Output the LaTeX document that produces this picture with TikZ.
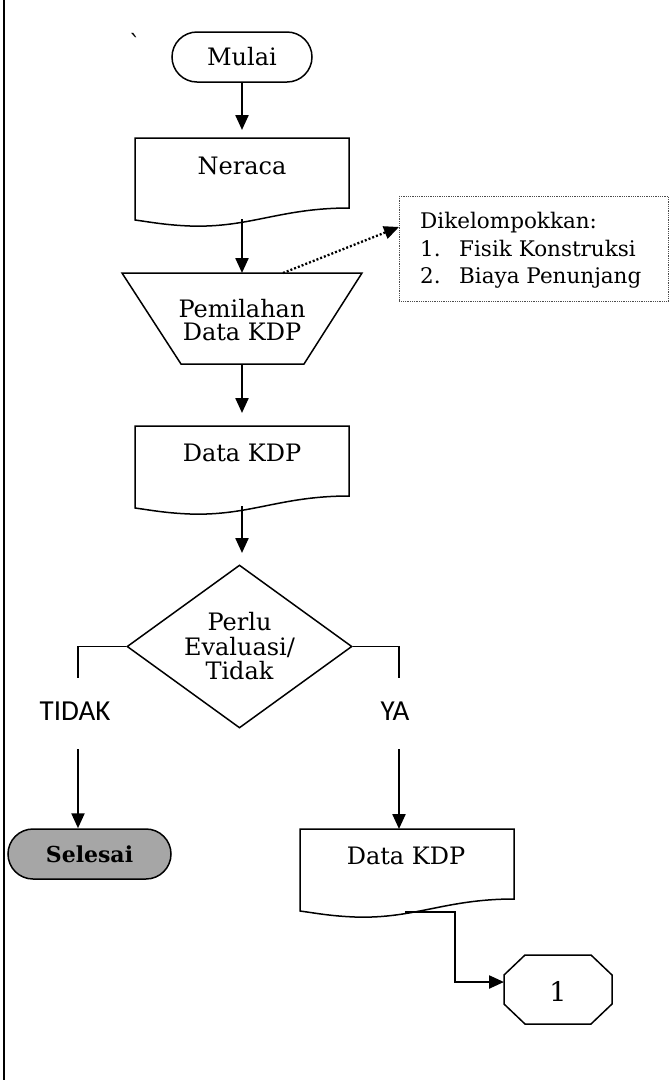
\documentclass[tikz,border=0pt]{standalone}
\usepackage{fontspec}
\setmainfont{DejaVu Serif}
\newfontfamily\sansf{Carlito}
\usetikzlibrary{shapes.geometric,arrows.meta}
\definecolor{selgray}{RGB}{166,166,166}
\begin{document}
\begin{tikzpicture}[x=1pt,y=-1pt,
  shp/.style={draw, line width=1.5pt, line join=miter},
  arr/.style={line width=2.3pt, -{Triangle[width=13pt,length=15pt]}},
  txt/.style={font=\fontsize{24}{23}\selectfont, align=center, inner sep=0pt},
  lbl/.style={font=\sansf\fontsize{29}{29}\selectfont, inner sep=0pt},
  docshape/.pic={\draw[shp] (0,0) -- (214,0) -- (214,70) .. controls (145,70) and (115,90) .. (55,88) .. controls (30,87) and (15,84) .. (0,82) -- cycle;}
]
\useasboundingbox (0,0) rectangle (669,1080);
\draw[line width=2.5pt] (4,0) -- (4,1080);
\node[txt] (tick) at (135,43) {ˋ};

% Mulai
\node[shp, txt, rounded corners=25pt, minimum width=140pt, minimum height=50pt] (mulai) at (242,57) {Mulai};

% Neraca
\pic at (135,138) {docshape};
\node[txt] (neraca) at (242,166) {Neraca};
\coordinate (neracaT) at (242,130);
\coordinate (neracaB) at (242,219);

% Pemilahan
\draw[shp] (122,273) -- (362,273) -- (304,364) -- (181,364) -- cycle;
\node[txt] (pemilahan) at (242,320) {Pemilahan\\Data KDP};
\coordinate (trapT) at (242,273);
\coordinate (trapB) at (242,364);
\coordinate (trapD) at (283,273);

% info box
\node[draw=black!70, densely dotted, line width=0.8pt, minimum width=269pt, minimum height=105pt, anchor=north west, inner sep=0pt] (info) at (399,196) {};
\node[anchor=north west, align=left, inner sep=0pt, font=\fontsize{21.5}{27.5}\selectfont] (infotxt) at (420,212) {Dikelompokkan:\\\makebox[39pt][l]{1.}Fisik Konstruksi\\\makebox[39pt][l]{2.}Biaya Penunjang};
\coordinate (infoIn) at (399,227);

% Data KDP 1
\pic at (135,426) {docshape};
\node[txt] (data1) at (242,453) {Data KDP};
\coordinate (data1T) at (242,413);
\coordinate (data1B) at (242,506);
\coordinate (decT) at (242,553);

% Decision
\node[shp, diamond, aspect=1.38, minimum width=225pt, minimum height=163pt, inner sep=0pt, font=\fontsize{24}{24.5}\selectfont, align=center] (dec) at (239.5,646.5) {Perlu\\Evaluasi/\\Tidak};

\coordinate (lt) at (78,678);
\coordinate (lb) at (78,749);
\coordinate (rt) at (399,678);
\coordinate (rb) at (399,749);
\node[lbl] (tidak) at (75,711) {TIDAK};
\node[lbl] (ya) at (395,711) {YA};

% Selesai
\node[shp, rounded corners=25pt, minimum width=163pt, minimum height=50pt, fill=selgray, inner sep=0pt, font=\bfseries\fontsize{22}{22}\selectfont] (selesai) at (89.5,854) {Selesai};

% Data KDP 2
\pic at (300,829) {docshape};
\node[txt] (data2) at (406,856) {Data KDP};
\coordinate (data2T) at (399,829);
\coordinate (data2B) at (405,912);
\coordinate (bend) at (455,982);

% connector 1
\draw[shp] (504,975) -- (525,955) -- (591,955) -- (612,975) -- (612,1004) -- (591,1024) -- (525,1024) -- (504,1004) -- cycle;
\node[font=\fontsize{27}{27}\selectfont, inner sep=0pt] (one) at (558,991) {1};
\coordinate (octIn) at (504,982);

% connectors
\draw[arr] (mulai.south) -- (neracaT);
\draw[arr] (neracaB) -- (trapT);
\draw[line width=2.3pt, dash pattern=on 2pt off 2pt, -{Triangle[width=13pt,length=15pt]}] (trapD) -- (infoIn);
\draw[arr] (trapB) -- (data1T);
\draw[arr] (data1B) -- (decT);
\draw[shp] (dec.west) -| (lt);
\draw[shp] (dec.east) -| (rt);
\draw[arr] (lb) -- (lb |- selesai.north);
\draw[arr] (rb) -- (data2T);
\draw[arr] (data2B) -| (bend) -- (octIn);
\end{tikzpicture}
\end{document}
